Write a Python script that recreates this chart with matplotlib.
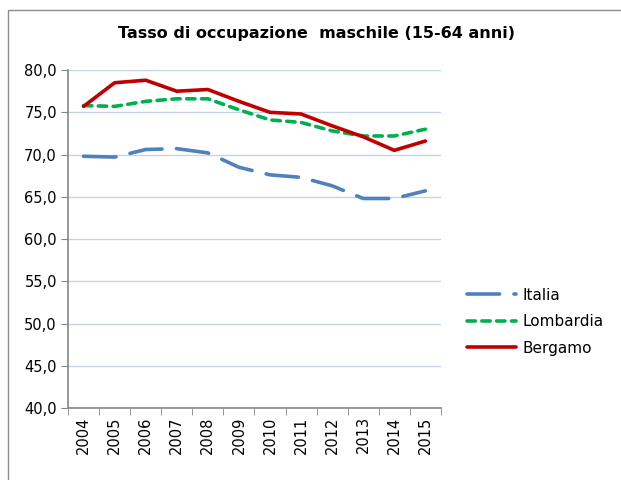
import matplotlib
matplotlib.use('Agg')
import matplotlib.pyplot as plt
from matplotlib.patches import Rectangle

# dati
anni = ['2004', '2005', '2006', '2007', '2008', '2009',
        '2010', '2011', '2012', '2013', '2014', '2015']
italia = [69.8, 69.7, 70.6, 70.7, 70.2, 68.5, 67.6, 67.3, 66.3, 64.8, 64.8, 65.7]
lombardia = [75.8, 75.7, 76.3, 76.6, 76.6, 75.3, 74.1, 73.8, 72.8, 72.2, 72.2, 73.0]
bergamo = [75.7, 78.5, 78.8, 77.5, 77.7, 76.3, 75.0, 74.8, 73.4, 72.1, 70.5, 71.6]
y_ticks = [40, 45, 50, 55, 60, 65, 70, 75, 80]

fig = plt.figure(figsize=(6.21, 4.8), dpi=100)
ax = fig.add_axes([0.1095, 0.15, 0.6005, 0.704])

# cornice esterna del grafico
fig.patches.append(Rectangle((8 / 621, -0.02), 1.0, 0.999 - 10 / 480 + 0.02,
                             transform=fig.transFigure, fill=False,
                             edgecolor='#8c8c8c', linewidth=1.0))

x = list(range(len(anni)))
l1, = ax.plot(x, italia, color='#4f81bd', lw=2.6, dashes=(9, 4),
              dash_capstyle='round', label='Italia')
l2, = ax.plot(x, lombardia, color='#00b050', lw=2.6, dashes=(2.3, 1.8),
              dash_capstyle='round', label='Lombardia')
l3, = ax.plot(x, bergamo, color='#c00000', lw=2.6, solid_capstyle='round',
              label='Bergamo')

ax.set_xlim(-0.5, len(anni) - 0.5)
ax.set_ylim(40, 80)
ax.set_yticks(y_ticks)
ax.set_yticklabels([f'{v:.1f}'.replace('.', ',') for v in y_ticks], fontsize=10.5)
ax.set_xticks(x)
ax.set_xticklabels(anni, rotation=90, fontsize=10.5)
ax.tick_params(axis='x', length=0, pad=6)
ax.set_xticks([i - 0.5 for i in range(len(anni) + 1)], minor=True)
ax.tick_params(axis='x', which='minor', length=5, color='#868686')
ax.tick_params(axis='y', length=5, color='#868686', pad=3)

ax.grid(axis='y', color='#c6d4ea', lw=1)
ax.set_axisbelow(True)
for s in ['top', 'right']:
    ax.spines[s].set_visible(False)
for s in ['left', 'bottom']:
    ax.spines[s].set_color('#868686')
    ax.spines[s].set_linewidth(1.2)

fig.text(0.51, 0.93, 'Tasso di occupazione  maschile (15-64 anni)',
         ha='center', va='center', fontsize=11.5, fontweight='bold')

fig.legend(handles=[l1, l2, l3], loc='center left',
           bbox_to_anchor=(0.73, 0.33), frameon=False, fontsize=11,
           handlelength=3.2, handletextpad=0.4, labelspacing=0.75)

fig.savefig('out.png', dpi=100)
